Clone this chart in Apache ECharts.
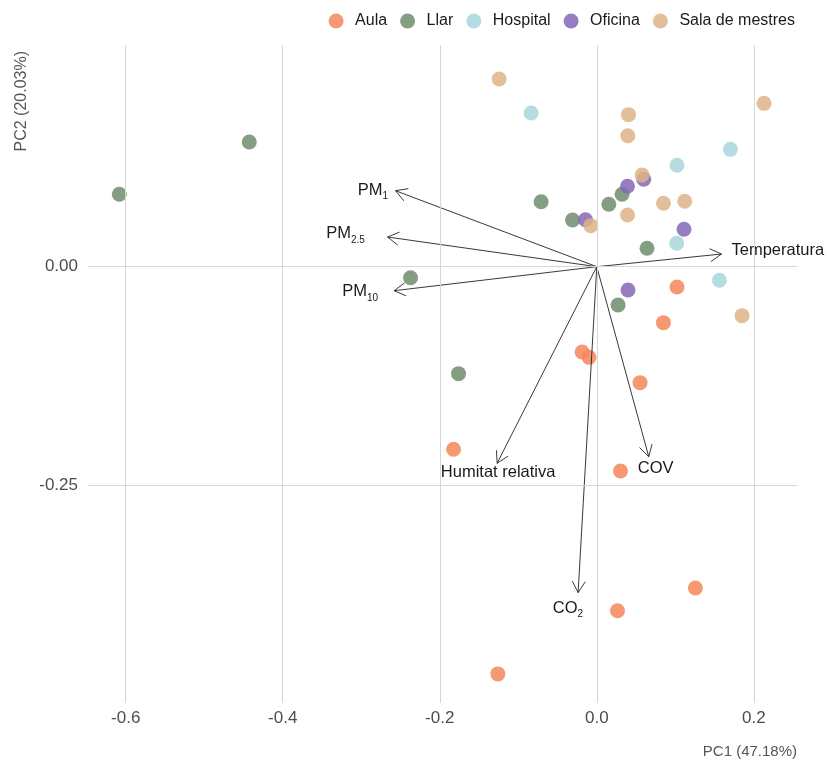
<!DOCTYPE html>
<html>
<head>
<meta charset="utf-8">
<script src="https://cdn.jsdelivr.net/npm/echarts@6/dist/echarts.min.js"></script>
<style>
  html, body { margin: 0; padding: 0; background: #ffffff; }
  #chart { width: 827px; height: 763px; }
</style>
</head>
<body>
<div id="chart"></div>
<script>
// PCA scores per site type (PC1, PC2)
const groups = ['Aula', 'Llar', 'Hospital', 'Oficina', 'Sala de mestres'];
const aula = [[0.1022, -0.0232], [0.0849, -0.0641], [-0.0187, -0.0977], [-0.0098, -0.1038], [0.0551, -0.1328],
  [-0.1824, -0.2091], [0.0302, -0.2340], [0.1256, -0.3680], [0.0264, -0.3940], [-0.1260, -0.4664]];
const llar = [[-0.6081, 0.0829], [-0.4426, 0.1428], [-0.2372, -0.0126], [-0.1761, -0.1225], [-0.0709, 0.0744],
  [-0.0309, 0.0535], [0.0153, 0.0715], [0.0322, 0.0829], [0.0640, 0.0211], [0.0271, -0.0439]];
const hospital = [[-0.0836, 0.1760], [0.1022, 0.1161], [0.1702, 0.1344], [0.1018, 0.0268], [0.1562, -0.0156]];
const oficina = [[-0.0144, 0.0538], [0.0391, 0.0921], [0.0598, 0.1001], [0.1111, 0.0428], [0.0398, -0.0267]];
const salaMestres = [[-0.1244, 0.2150], [0.0404, 0.1741], [0.0395, 0.1500], [0.2130, 0.1871], [0.0577, 0.1050],
  [0.0849, 0.0726], [0.1120, 0.0749], [0.0391, 0.0592], [-0.0076, 0.0470], [0.1850, -0.0561]];

// Variable loadings (arrow tips)
const loadingNames = ['PM1', 'PM2.5', 'PM10', 'Temperatura', 'Humitat relativa', 'CO2', 'COV'];
const loadingPC1 = [-0.2563, -0.2665, -0.2581, 0.1588, -0.1269, -0.0238, 0.0662];
const loadingPC2 = [0.0870, 0.0340, -0.0275, 0.0145, -0.2251, -0.3733, -0.2176];

// Axis breaks
const xTicks = [-0.6, -0.4, -0.2, 0, 0.2];
const yTicks = [-0.25, 0];

const groupData = [aula, llar, hospital, oficina, salaMestres];
const groupColors = ['#F4875B', '#6E8D6F', '#A8D6DB', '#8567B5', '#DDB487'];
const FONT = '"Liberation Sans", Arial, Helvetica, sans-serif';

// How each loading label is written (main text + subscript) and where it sits next to its arrow tip
const labelParts = {
  'PM1': ['PM', '1'], 'PM2.5': ['PM', '2.5'], 'PM10': ['PM', '10'], 'CO2': ['CO', '2'],
  'Temperatura': ['Temperatura', ''], 'Humitat relativa': ['Humitat relativa', ''], 'COV': ['COV', '']
};
const labelPlacement = {
  'PM1': { align: 'right', dx: -7.5, dy: -1.2 },
  'PM2.5': { align: 'right', dx: -22.7, dy: -3.7 },
  'PM10': { align: 'right', dx: -16, dy: 0.6 },
  'Temperatura': { align: 'left', dx: 10, dy: -4 },
  'Humitat relativa': { align: 'center', dx: 1, dy: 9 },
  'CO2': { align: 'right', dx: 5, dy: 15 },
  'COV': { align: 'left', dx: -11, dy: 11.3 }
};

const richStyles = {
  m: { fontSize: 16.5, lineHeight: 16, verticalAlign: 'top', fontFamily: FONT, color: '#1a1a1a' },
  s: { fontSize: 10, lineHeight: 10, padding: [9.5, 0, 0, 0], verticalAlign: 'top', fontFamily: FONT, color: '#1a1a1a' }
};

function renderArrow(params, api) {
  const name = loadingNames[params.dataIndex];
  const p0 = api.coord([0, 0]);
  const p1 = api.coord([api.value(0), api.value(1)]);
  const ang = Math.atan2(p1[1] - p0[1], p1[0] - p0[0]);
  const L = 13, a = Math.PI / 6;
  const h1 = [p1[0] - L * Math.cos(ang - a), p1[1] - L * Math.sin(ang - a)];
  const h2 = [p1[0] - L * Math.cos(ang + a), p1[1] - L * Math.sin(ang + a)];
  const parts = labelParts[name];
  const place = labelPlacement[name];
  const txt = '{m|' + parts[0] + '}' + (parts[1] ? '{s|' + parts[1] + '}' : '');
  return {
    type: 'group',
    children: [
      { type: 'line', shape: { x1: p0[0], y1: p0[1], x2: p1[0], y2: p1[1] },
        style: { stroke: '#222222', lineWidth: 0.9 } },
      { type: 'polyline', shape: { points: [h1, p1, h2] },
        style: { stroke: '#222222', lineWidth: 0.9, fill: null } },
      { type: 'text', x: p1[0] + place.dx, y: p1[1] + place.dy - 8,
        style: { text: txt, rich: richStyles, align: place.align, verticalAlign: 'top',
          fontSize: 16.5, fontFamily: FONT, fill: '#1a1a1a' } }
    ]
  };
}

const chart = echarts.init(document.getElementById('chart'), null, { renderer: 'canvas' });

const series = [
  {
    name: 'grid',
    type: 'line',
    data: [],
    silent: true,
    z: 1,
    markLine: {
      silent: true,
      symbol: 'none',
      animation: false,
      label: { show: false },
      lineStyle: { color: '#d6d6d6', width: 1, type: 'solid' },
      emphasis: { disabled: true },
      data: xTicks.map(v => ({ xAxis: v })).concat(yTicks.map(v => ({ yAxis: v })))
    }
  }
];
groups.forEach((g, i) => {
  series.push({
    name: g,
    type: 'scatter',
    data: groupData[i],
    symbolSize: 15,
    z: 2,
    itemStyle: { color: groupColors[i], opacity: 0.85 }
  });
});
series.push({
  name: 'loadings',
  type: 'custom',
  z: 3,
  silent: true,
  data: loadingNames.map((n, i) => [loadingPC1[i], loadingPC2[i]]),
  renderItem: renderArrow
});

chart.setOption({
  animation: false,
  backgroundColor: '#ffffff',
  textStyle: { fontFamily: FONT },
  legend: {
    data: groups,
    top: 8,
    right: 27,
    icon: 'circle',
    itemWidth: 28,
    itemHeight: 15,
    itemGap: 13,
    textStyle: { fontSize: 16, color: '#1a1a1a', fontFamily: FONT }
  },
  grid: { left: 88, right: 30, top: 45, bottom: 60, containLabel: false, outerBoundsMode: 'none' },
  xAxis: {
    type: 'value',
    min: -0.648,
    max: 0.255,
    axisLine: { show: false },
    axisTick: { show: false },
    splitLine: { show: false },
    axisLabel: { customValues: xTicks, formatter: v => v.toFixed(1), fontSize: 17, color: '#4d4d4d', margin: 7, fontFamily: FONT }
  },
  yAxis: {
    type: 'value',
    min: -0.4997,
    max: 0.2539,
    axisLine: { show: false },
    axisTick: { show: false },
    splitLine: { show: false },
    axisLabel: { customValues: yTicks, formatter: v => v.toFixed(2), fontSize: 17, color: '#4d4d4d', margin: 10, fontFamily: FONT }
  },
  graphic: [
    { type: 'text', x: 797, y: 752, style: { text: 'PC1 (47.18%)', align: 'right', verticalAlign: 'middle', fontSize: 15, fill: '#555555', fontFamily: FONT } },
    { type: 'text', x: 22, y: 51, rotation: Math.PI / 2, style: { text: 'PC2 (20.03%)', align: 'right', verticalAlign: 'middle', fontSize: 16, fill: '#555555', fontFamily: FONT } }
  ],
  series: series
});
</script>
</body>
</html>
